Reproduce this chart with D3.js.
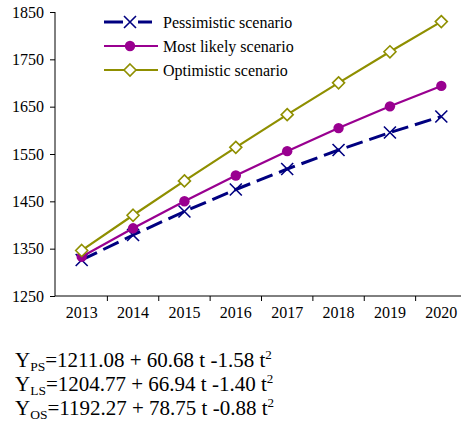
<!DOCTYPE html>
<html>
<head>
<meta charset="utf-8">
<script src="https://cdn.jsdelivr.net/npm/d3@7/dist/d3.min.js"></script>
<style>
  html, body { margin: 0; padding: 0; background: #fff; }
  svg { display: block; }
</style>
</head>
<body>
<script>
// Forecast years
const years = ["2013", "2014", "2015", "2016", "2017", "2018", "2019", "2020"];

// Scenario values per year
const pessimistic = [1326.12, 1378.90, 1428.52, 1474.98, 1518.28, 1558.42, 1595.40, 1629.22];
const mostLikely  = [1333.05, 1392.99, 1450.13, 1504.47, 1556.01, 1604.75, 1650.69, 1693.83];
const optimistic  = [1346.25, 1420.60, 1493.19, 1564.02, 1633.09, 1700.40, 1765.95, 1829.74];

const seriesNames = ["Pessimistic scenario", "Most likely scenario", "Optimistic scenario"];
const yTicks = [1250, 1350, 1450, 1550, 1650, 1750, 1850];

// Trend equations printed under the chart
const eqSubscripts = ["PS", "LS", "OS"];
const eqBodies = ["=1211.08 + 60.68 t -1.58 t", "=1204.77 + 66.94 t -1.40 t", "=1192.27 + 78.75 t -0.88 t"];
const eqPower = "2";

const FONT = "'Liberation Serif', 'Times New Roman', Times, serif";
const W = 461, H = 431;
const svg = d3.select("body").append("svg").attr("width", W).attr("height", H)
  .attr("font-family", FONT);

const x = d3.scaleBand().domain(years).range([56, 467]).padding(0);
const y = d3.scaleLinear().domain([1250, 1850]).range([296, 12]);
const cx = d => x(d) + x.bandwidth() / 2;

// Axes
const yAxis = svg.append("g").attr("transform", "translate(55,0)")
  .call(d3.axisLeft(y).tickValues(yTicks).tickSize(5).tickPadding(6).tickFormat(d3.format("d")));
yAxis.attr("font-family", FONT).attr("font-size", 16);
yAxis.select(".domain").attr("d", `M0,${y(1850)}V${y(1250)}`).attr("stroke", "#000");
yAxis.selectAll(".tick line").attr("stroke", "#000");
yAxis.selectAll("text").attr("fill", "#000");

const xAxis = svg.append("g").attr("transform", `translate(0,${y(1250)})`)
  .call(d3.axisBottom(x).tickSize(0).tickPadding(11));
xAxis.attr("font-family", FONT).attr("font-size", 16);
xAxis.select(".domain").attr("d", `M55,0H${W}`).attr("stroke", "#000");
xAxis.selectAll("text").attr("fill", "#000");
// tick marks between categories
xAxis.selectAll(".bound").data(years.slice(1)).join("line")
  .attr("class", "bound")
  .attr("x1", d => x(d)).attr("x2", d => x(d))
  .attr("y1", 0).attr("y2", 5).attr("stroke", "#000");

const series = [
  { name: seriesNames[0], values: pessimistic, color: "#000080", width: 3, dash: "17,7", marker: "x" },
  { name: seriesNames[1], values: mostLikely,  color: "#990090", width: 2.2, dash: null, marker: "circle" },
  { name: seriesNames[2], values: optimistic,  color: "#8f8f00", width: 2.2, dash: null, marker: "diamond" }
];

function drawMarker(g, type, color, px, py) {
  if (type === "x") {
    const s = 6;
    g.append("path").attr("d", `M${px - s},${py - s}L${px + s},${py + s}M${px - s},${py + s}L${px + s},${py - s}`)
      .attr("stroke", color).attr("stroke-width", 1.6).attr("fill", "none");
  } else if (type === "circle") {
    g.append("circle").attr("cx", px).attr("cy", py).attr("r", 5.2).attr("fill", color);
  } else {
    const s = 6;
    g.append("path").attr("d", `M${px},${py - s}L${px + s},${py}L${px},${py + s}L${px - s},${py}Z`)
      .attr("stroke", color).attr("stroke-width", 1.6).attr("fill", "#fff");
  }
}

const line = d3.line().x((d, i) => cx(years[i])).y(d => y(d));

series.forEach(s => {
  const g = svg.append("g");
  g.append("path").attr("d", line(s.values))
    .attr("fill", "none").attr("stroke", s.color).attr("stroke-width", s.width)
    .attr("stroke-dasharray", s.dash);
  s.values.forEach((v, i) => drawMarker(g, s.marker, s.color, cx(years[i]), y(v)));
});

// Legend
const legend = svg.append("g");
series.forEach((s, i) => {
  const ly = 22 + i * 24;
  const g = legend.append("g");
  if (s.dash) {
    g.append("line").attr("x1", 104).attr("x2", 123).attr("y1", ly).attr("y2", ly)
      .attr("stroke", s.color).attr("stroke-width", s.width);
    g.append("line").attr("x1", 138).attr("x2", 152).attr("y1", ly).attr("y2", ly)
      .attr("stroke", s.color).attr("stroke-width", s.width);
  } else {
    g.append("line").attr("x1", 104).attr("x2", 158).attr("y1", ly).attr("y2", ly)
      .attr("stroke", s.color).attr("stroke-width", s.width);
  }
  drawMarker(g, s.marker, s.color, 130, ly);
  g.append("text").attr("x", 163).attr("y", ly).attr("dy", "0.35em")
    .attr("font-size", 16).attr("fill", "#000").text(s.name);
});

// Equations
eqSubscripts.forEach((sub, i) => {
  const t = svg.append("text").attr("x", 15).attr("y", 367 + i * 24)
    .attr("font-size", 21).attr("fill", "#000");
  t.append("tspan").text("Y");
  t.append("tspan").attr("dy", 4).attr("font-size", 13.5).text(sub);
  t.append("tspan").attr("dy", -4).text(eqBodies[i]);
  t.append("tspan").attr("dy", -8).attr("font-size", 13).text(eqPower);
});
</script>
</body>
</html>
